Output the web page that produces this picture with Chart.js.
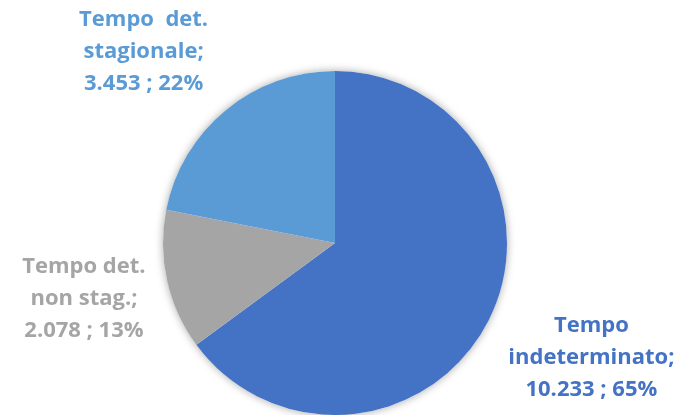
<!DOCTYPE html>
<html>
<head>
<meta charset="utf-8">
<script src="https://cdn.jsdelivr.net/npm/chart.js@4"></script>
<style>
  html, body { margin: 0; padding: 0; background: #fff; }
  #wrap { width: 677px; height: 415px; }
</style>
</head>
<body>
<div id="wrap"><canvas id="torta"></canvas></div>
<script>
// contratti per tipologia
const categorie = [
    ['Tempo', 'indeterminato;'],
    ['Tempo det.', 'non stag.;'],
    ['Tempo  det.', 'stagionale;']
];
const valori = [10233, 2078, 3453];
const colori = ['#4472C4', '#A5A5A5', '#5B9BD5'];

const FONT = 'bold 22px "Open Sans"';
const LINE_H = 32;
const GAP = 20;

function fmt(v) {
    return v.toLocaleString('it-IT');
}

// ombra morbida sotto la torta
const ombra = {
    id: 'ombra',
    beforeDatasetsDraw(chart) {
        const arc = chart.getDatasetMeta(0).data[0];
        if (!arc) return;
        const ctx = chart.ctx;
        ctx.save();
        ctx.shadowColor = 'rgba(0,0,0,0.35)';
        ctx.shadowBlur = 8;
        ctx.fillStyle = '#fff';
        ctx.beginPath();
        ctx.arc(arc.x, arc.y, arc.outerRadius, 0, Math.PI * 2);
        ctx.fill();
        ctx.restore();
    }
};

// etichette esterne: nome; valore ; percentuale
const etichette = {
    id: 'etichette',
    afterDatasetsDraw(chart, args, opts) {
        const ctx = chart.ctx;
        const meta = chart.getDatasetMeta(0);
        const tot = valori.reduce((a, b) => a + b, 0);
        ctx.save();
        ctx.font = FONT;
        ctx.textAlign = 'center';
        ctx.textBaseline = 'middle';
        meta.data.forEach((arc, i) => {
            const righe = categorie[i].concat(fmt(valori[i]) + ' ; ' + Math.round(valori[i] / tot * 100) + '%');
            const w = Math.max(...righe.map(t => ctx.measureText(t).width));
            const h = righe.length * LINE_H;
            const mid = (arc.startAngle + arc.endAngle) / 2;
            const dx = Math.cos(mid), dy = Math.sin(mid);
            // distanza dal centro al bordo del blocco di testo lungo il raggio
            const edge = Math.min(
                Math.abs(dx) > 1e-6 ? (w / 2) / Math.abs(dx) : Infinity,
                Math.abs(dy) > 1e-6 ? (h / 2) / Math.abs(dy) : Infinity
            );
            const d = arc.outerRadius + GAP + edge;
            const sp = (opts.spostamenti && opts.spostamenti[i]) || [0, 0];
            const cx = arc.x + dx * d + sp[0];
            const cy = arc.y + dy * d + sp[1];
            ctx.fillStyle = colori[i];
            righe.forEach((t, k) => {
                ctx.fillText(t, cx, cy + (k - (righe.length - 1) / 2) * LINE_H);
            });
        });
        ctx.restore();
    }
};

new Chart(document.getElementById('torta'), {
    type: 'pie',
    data: {
        labels: categorie.map(c => c.join(' ')),
        datasets: [{
            data: valori,
            backgroundColor: colori,
            borderWidth: 0
        }]
    },
    options: {
        responsive: true,
        maintainAspectRatio: false,
        animation: false,
        layout: { padding: { top: 71, bottom: 0, left: 0, right: 7 } },
        plugins: {
            legend: { display: false },
            tooltip: { enabled: false },
            etichette: { spostamenti: [[2, -14], [-2, 0], [-30, 5]] }
        }
    },
    plugins: [ombra, etichette]
});
</script>
</body>
</html>
